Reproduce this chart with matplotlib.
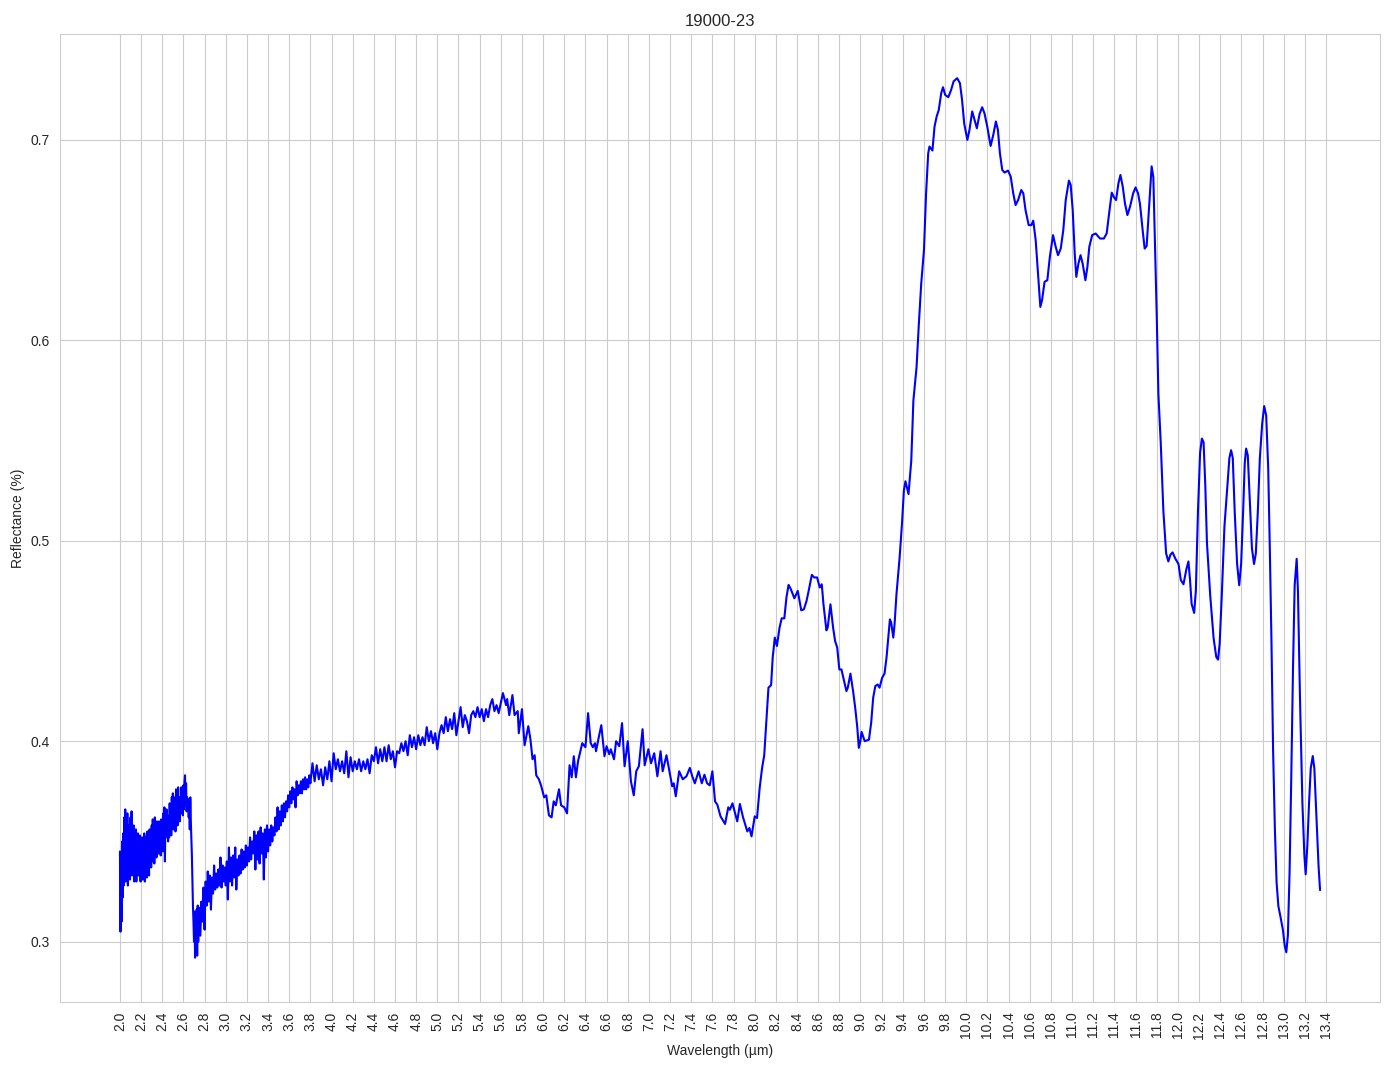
import numpy as np
import matplotlib
matplotlib.use("Agg")
import matplotlib.pyplot as plt
import seaborn as sns

# ---- data ----
# noisy part 2.000 - 2.745 um (0.005 um grid)
refl_a = [
    0.345, 0.305, 0.338, 0.310, 0.350, 0.322, 0.354, 0.328, 0.362, 0.333,
    0.366, 0.330, 0.352, 0.336, 0.364, 0.328, 0.358, 0.340, 0.348, 0.331,
    0.362, 0.336, 0.365, 0.333, 0.355, 0.345, 0.358, 0.330, 0.352, 0.338,
    0.356, 0.330, 0.348, 0.337, 0.354, 0.333, 0.350, 0.340, 0.353, 0.330,
    0.348, 0.342, 0.352, 0.331, 0.349, 0.336, 0.354, 0.330, 0.352, 0.341,
    0.347, 0.332, 0.355, 0.338, 0.351, 0.333, 0.356, 0.340, 0.353, 0.337,
    0.358, 0.340, 0.361, 0.346, 0.357, 0.339, 0.362, 0.345, 0.356, 0.342,
    0.360, 0.347, 0.358, 0.344, 0.360, 0.349, 0.356, 0.343, 0.361, 0.350,
    0.358, 0.345, 0.364, 0.349, 0.367, 0.340, 0.362, 0.352, 0.366, 0.355,
    0.363, 0.350, 0.358, 0.352, 0.369, 0.356, 0.366, 0.353, 0.372, 0.358,
    0.374, 0.356, 0.370, 0.360, 0.372, 0.355, 0.376, 0.362, 0.371, 0.358,
    0.377, 0.363, 0.372, 0.360, 0.368, 0.365, 0.377, 0.364, 0.372, 0.363,
    0.378, 0.366, 0.380, 0.383, 0.368, 0.379, 0.365, 0.372, 0.366, 0.371,
    0.362, 0.370, 0.356, 0.372, 0.360, 0.352, 0.343, 0.331, 0.318, 0.310,
    0.300, 0.315, 0.292, 0.310, 0.295, 0.316, 0.293, 0.318, 0.300, 0.317,
]
wl_a = np.linspace(2.0, 2.745, len(refl_a))

# noisy part 2.75 - 3.80 um (0.01 um grid)
refl_b1 = [
    0.312, 0.303, 0.320, 0.310, 0.327, 0.306, 0.330, 0.318, 0.335, 0.320,
    0.333, 0.316, 0.332, 0.324, 0.338, 0.326, 0.334, 0.327, 0.336, 0.328,
    0.342, 0.327, 0.338, 0.330, 0.337, 0.328, 0.340, 0.321, 0.347, 0.330,
    0.342, 0.328, 0.343, 0.332, 0.347, 0.326, 0.341, 0.333, 0.343, 0.334,
    0.346, 0.336, 0.345, 0.337, 0.348, 0.338, 0.347, 0.340, 0.352, 0.341,
    0.350, 0.344, 0.355, 0.336, 0.353, 0.341, 0.355, 0.339, 0.357, 0.344,
    0.354, 0.331, 0.356, 0.342, 0.358, 0.345, 0.356, 0.348, 0.358, 0.350,
    0.357, 0.353, 0.362, 0.355, 0.367, 0.356, 0.365, 0.358, 0.368, 0.360,
    0.369, 0.362, 0.370, 0.365, 0.373, 0.367, 0.375, 0.369, 0.377, 0.371,
    0.376, 0.367, 0.380, 0.373, 0.378, 0.374, 0.380, 0.374, 0.381, 0.376,
    0.382, 0.376, 0.381, 0.377, 0.383, 0.379,
]
wl_b1 = np.linspace(2.75, 3.80, len(refl_b1))

# noisy part 3.82 - 5.58 um (0.02 um grid)
refl_b2 = [
    0.389, 0.380, 0.388, 0.381, 0.386, 0.378, 0.387, 0.381, 0.390, 0.380,
    0.394, 0.386, 0.391, 0.385, 0.390, 0.384, 0.395, 0.382, 0.392, 0.385,
    0.390, 0.386, 0.391, 0.385, 0.390, 0.386, 0.391, 0.384, 0.393, 0.390,
    0.397, 0.389, 0.396, 0.390, 0.397, 0.390, 0.398, 0.391, 0.395, 0.387,
    0.395, 0.394, 0.399, 0.395, 0.400, 0.393, 0.403, 0.397, 0.402, 0.396,
    0.403, 0.398, 0.402, 0.398, 0.407, 0.400, 0.405, 0.399, 0.404, 0.396,
    0.404, 0.408, 0.404, 0.412, 0.405, 0.411, 0.406, 0.414, 0.403, 0.410,
    0.417, 0.407, 0.413, 0.410, 0.404, 0.413, 0.415, 0.412, 0.417, 0.412,
    0.416, 0.410, 0.416, 0.412, 0.418, 0.421, 0.415, 0.418, 0.414,
]
wl_b2 = np.linspace(3.82, 5.58, len(refl_b2))

# 5.6 - 8.0 um
wl_c = [5.62, 5.65, 5.66, 5.68, 5.71, 5.73, 5.76, 5.77, 5.80, 5.825, 5.86, 5.88,
        5.90, 5.92, 5.935, 5.96, 5.98, 6.01, 6.03, 6.055, 6.08, 6.10, 6.12, 6.15,
        6.17, 6.20, 6.226, 6.25, 6.27, 6.29, 6.31, 6.33, 6.37, 6.40, 6.425, 6.45,
        6.47, 6.49, 6.50, 6.53, 6.55, 6.58, 6.60, 6.625, 6.64, 6.67, 6.69, 6.72,
        6.746, 6.77, 6.80, 6.83, 6.857, 6.88, 6.905, 6.94, 6.96, 6.995, 7.02,
        7.05, 7.08, 7.11, 7.13, 7.166, 7.19, 7.22, 7.235, 7.254, 7.286, 7.32,
        7.355, 7.387, 7.41, 7.434, 7.47, 7.50, 7.525, 7.55, 7.575, 7.60, 7.625,
        7.647, 7.677, 7.72, 7.75, 7.765, 7.79, 7.835, 7.86, 7.89, 7.93, 7.95, 7.97]
refl_c = [0.424, 0.418, 0.421, 0.413, 0.423, 0.413, 0.415, 0.404, 0.416, 0.398,
          0.4075, 0.401, 0.391, 0.393, 0.383, 0.381, 0.378, 0.372, 0.373, 0.363,
          0.362, 0.370, 0.368, 0.376, 0.368, 0.367, 0.364, 0.388, 0.382, 0.3925,
          0.382, 0.390, 0.399, 0.397, 0.414, 0.399, 0.397, 0.399, 0.395, 0.403,
          0.408, 0.3925, 0.3975, 0.3935, 0.396, 0.391, 0.400, 0.3975, 0.409,
          0.3875, 0.400, 0.380, 0.373, 0.385, 0.3875, 0.406, 0.388, 0.396, 0.389,
          0.394, 0.3825, 0.395, 0.385, 0.393, 0.386, 0.3775, 0.379, 0.3725,
          0.385, 0.381, 0.3825, 0.3867, 0.3825, 0.379, 0.385, 0.379, 0.3833,
          0.379, 0.378, 0.385, 0.370, 0.3683, 0.3625, 0.3587, 0.367, 0.3658,
          0.369, 0.360, 0.3687, 0.362, 0.355, 0.3567, 0.3525]

# 8.0 - 9.4 um
wl_d = [8.0, 8.022, 8.047, 8.07, 8.09, 8.11, 8.13, 8.155, 8.17, 8.19, 8.21, 8.235,
        8.255, 8.28, 8.30, 8.32, 8.342, 8.375, 8.407, 8.44, 8.465, 8.49, 8.51,
        8.54, 8.562, 8.59, 8.615, 8.634, 8.65, 8.678, 8.69, 8.716, 8.741, 8.76,
        8.78, 8.80, 8.82, 8.867, 8.88, 8.905, 8.93, 8.95, 8.97, 8.984, 8.999,
        9.01, 9.04, 9.08, 9.101, 9.12, 9.14, 9.162, 9.18, 9.205, 9.227, 9.246,
        9.278, 9.29, 9.31, 9.322, 9.34, 9.37]
refl_d = [0.3625, 0.3617, 0.3767, 0.3867, 0.393, 0.410, 0.4267, 0.428, 0.4417,
          0.4517, 0.4475, 0.4567, 0.4613, 0.4613, 0.4717, 0.478, 0.4758, 0.4713,
          0.475, 0.4653, 0.4658, 0.470, 0.475, 0.483, 0.4817, 0.4817, 0.4767,
          0.4783, 0.4683, 0.4553, 0.4567, 0.4683, 0.4567, 0.450, 0.4467, 0.4358,
          0.4358, 0.425, 0.4267, 0.4337, 0.425, 0.4167, 0.4067, 0.3967, 0.400,
          0.4047, 0.400, 0.4008, 0.4092, 0.4217, 0.4275, 0.4283, 0.4267, 0.4317,
          0.4337, 0.4417, 0.4608, 0.4592, 0.4517, 0.4583, 0.4733, 0.4917]

# 9.4 - 11.63 um
wl_e = [9.394, 9.41, 9.425, 9.454, 9.48, 9.50, 9.53, 9.55, 9.574, 9.60, 9.62,
        9.64, 9.652, 9.68, 9.70, 9.72, 9.74, 9.763, 9.78, 9.80, 9.83, 9.857, 9.88,
        9.914, 9.94, 9.96, 9.98, 10.01, 10.03, 10.056, 10.078, 10.10, 10.126,
        10.15, 10.172, 10.198, 10.23, 10.255, 10.28, 10.299, 10.318, 10.34,
        10.362, 10.394, 10.42, 10.444, 10.466, 10.49, 10.52, 10.539, 10.56, 10.59,
        10.615, 10.633, 10.656, 10.68, 10.70, 10.716, 10.74, 10.766, 10.79,
        10.82, 10.845, 10.867, 10.893, 10.917, 10.94, 10.97, 10.987, 11.006,
        11.025, 11.04, 11.06, 11.08, 11.10, 11.126, 11.145, 11.163, 11.19,
        11.223, 11.264, 11.30, 11.327, 11.35, 11.375, 11.397, 11.416, 11.438,
        11.457, 11.479, 11.50, 11.523, 11.548, 11.577, 11.60, 11.624]
refl_e = [0.510, 0.525, 0.5297, 0.5233, 0.540, 0.570, 0.5867, 0.6067, 0.6283,
          0.645, 0.6733, 0.6933, 0.6967, 0.6947, 0.7067, 0.7117, 0.715, 0.7233,
          0.7263, 0.7225, 0.7213, 0.725, 0.7292, 0.7308, 0.7283, 0.720, 0.7083,
          0.700, 0.705, 0.7142, 0.710, 0.7058, 0.713, 0.7163, 0.7133, 0.7067,
          0.697, 0.7025, 0.7092, 0.705, 0.6933, 0.685, 0.6837, 0.6847, 0.6817,
          0.6733, 0.6675, 0.670, 0.675, 0.6733, 0.665, 0.6575, 0.6575, 0.6597,
          0.650, 0.6317, 0.6167, 0.620, 0.6292, 0.630, 0.6417, 0.6525, 0.6467,
          0.6425, 0.6458, 0.655, 0.670, 0.6797, 0.6775, 0.665, 0.6433, 0.6317,
          0.6383, 0.6425, 0.6383, 0.630, 0.6367, 0.6467, 0.6525, 0.6533, 0.6508,
          0.6508, 0.6533, 0.6633, 0.6737, 0.6713, 0.670, 0.6783, 0.6825, 0.6767,
          0.6683, 0.6625, 0.6667, 0.6733, 0.6763, 0.6733]

# 11.64 - 13.35 um
wl_f = [11.642, 11.667, 11.686, 11.705, 11.73, 11.752, 11.768, 11.784, 11.80,
        11.816, 11.838, 11.863, 11.889, 11.91, 11.93, 11.95, 11.977, 12.006,
        12.028, 12.053, 12.08, 12.10, 12.115, 12.13, 12.154, 12.17, 12.19, 12.21,
        12.227, 12.243, 12.259, 12.275, 12.306, 12.338, 12.363, 12.38, 12.395,
        12.417, 12.44, 12.465, 12.487, 12.503, 12.519, 12.537, 12.56, 12.58,
        12.598, 12.617, 12.632, 12.645, 12.661, 12.68, 12.70, 12.72, 12.737,
        12.756, 12.775, 12.797, 12.816, 12.835, 12.854, 12.87, 12.885, 12.90,
        12.917, 12.933, 12.95, 12.97, 12.993, 13.01, 13.025, 13.04, 13.056,
        13.072, 13.088, 13.104, 13.123, 13.135, 13.154, 13.177, 13.196, 13.208,
        13.224, 13.24, 13.256, 13.275, 13.29, 13.31, 13.33, 13.344]
refl_f = [0.668, 0.655, 0.6458, 0.6471, 0.668, 0.6868, 0.6815, 0.647, 0.6127,
          0.573, 0.549, 0.5148, 0.4937, 0.4897, 0.4931, 0.4942, 0.491, 0.4884,
          0.4804, 0.4783, 0.4857, 0.4897, 0.4804, 0.4685, 0.464, 0.4751, 0.5148,
          0.5439, 0.551, 0.5492, 0.528, 0.4989, 0.4725, 0.4513, 0.442, 0.4407,
          0.4487, 0.4751, 0.5069, 0.5254, 0.5413, 0.5452, 0.5413, 0.5148, 0.4884,
          0.4778, 0.4884, 0.5148, 0.5386, 0.546, 0.5426, 0.5201, 0.4963, 0.4884,
          0.4937, 0.5148, 0.5413, 0.5585, 0.5672, 0.5624, 0.536, 0.4937, 0.4487,
          0.3958, 0.3561, 0.3296, 0.3177, 0.3124, 0.3058, 0.2979, 0.2947, 0.3032,
          0.3349, 0.3825, 0.4354, 0.4778, 0.491, 0.4751, 0.4222, 0.3693, 0.3429,
          0.3336, 0.3481, 0.3693, 0.3865, 0.3926, 0.3865, 0.3614, 0.3376, 0.3257]

title = "19000-23"
x_label = "Wavelength (\u00b5m)"
y_label = "Reflectance (%)"
x_ticks = np.round(np.arange(2.0, 13.41, 0.2), 1)

wavelength = np.concatenate([wl_a, wl_b1, wl_b2, wl_c, wl_d, wl_e, wl_f])
reflectance = np.concatenate([refl_a, refl_b1, refl_b2, refl_c, refl_d, refl_e, refl_f])

sns.set_style("whitegrid")
plt.rcParams['font.family'] = ['Liberation Sans', 'DejaVu Sans']

fig, ax = plt.subplots(figsize=(13.94, 10.69), dpi=100)
fig.subplots_adjust(left=0.043, right=0.990, top=0.968, bottom=0.063)
ax.plot(wavelength, reflectance, color="blue", linewidth=1.5)
ax.set_xticks(x_ticks)
ax.set_xticklabels([f"{t:.1f}" for t in x_ticks], rotation=90)
ax.set_title(title)
ax.set_xlabel(x_label)
ax.set_ylabel(y_label)
fig.savefig("out.png", dpi=100)
